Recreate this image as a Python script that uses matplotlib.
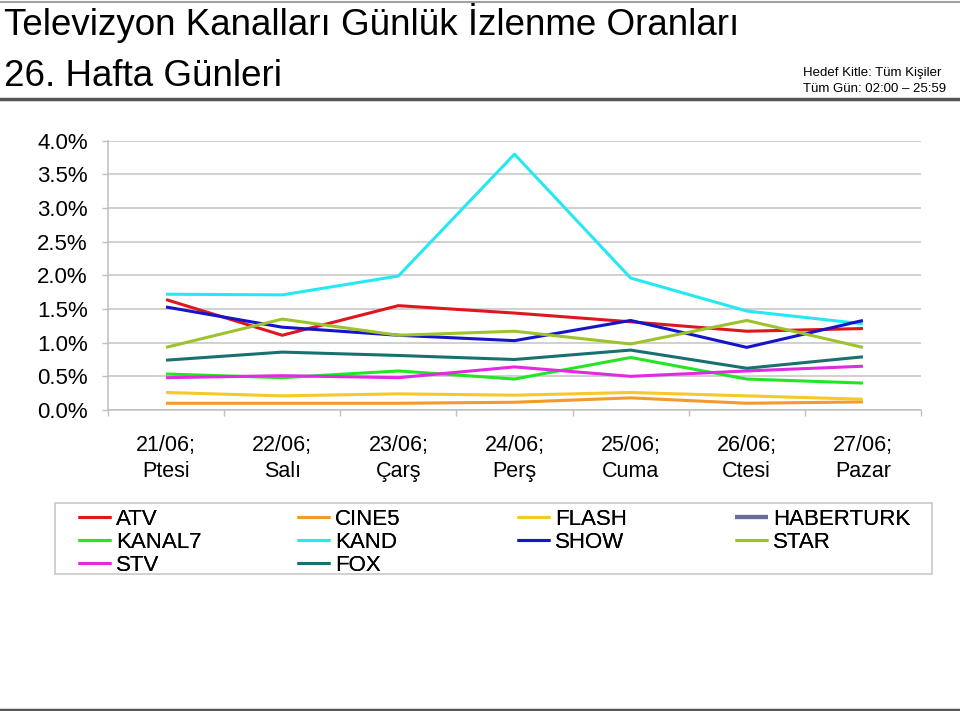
import matplotlib
matplotlib.use('Agg')
import matplotlib.pyplot as plt
from matplotlib.patches import Rectangle
from matplotlib.lines import Line2D
from matplotlib.ticker import FuncFormatter, MultipleLocator, FixedLocator
import numpy as np

plt.rcParams['font.family'] = ['Liberation Sans', 'DejaVu Sans']

days = ["21/06;\nPtesi", "22/06;\nSalı", "23/06;\nÇarş", "24/06;\nPerş",
        "25/06;\nCuma", "26/06;\nCtesi", "27/06;\nPazar"]

# values in percent
atv       = [1.64, 1.11, 1.55, 1.44, 1.31, 1.17, 1.21]
cine5     = [0.10, 0.10, 0.10, 0.115, 0.18, 0.10, 0.12]
flash     = [0.26, 0.21, 0.24, 0.22, 0.26, 0.21, 0.16]
haberturk = [np.nan] * 7
kanal7    = [0.535, 0.48, 0.58, 0.46, 0.78, 0.46, 0.40]
kand      = [1.72, 1.71, 1.99, 3.80, 1.96, 1.47, 1.28]
show      = [1.53, 1.23, 1.11, 1.03, 1.33, 0.93, 1.33]
star      = [0.93, 1.35, 1.11, 1.17, 0.98, 1.33, 0.93]
stv       = [0.48, 0.51, 0.48, 0.64, 0.50, 0.58, 0.65]
fox       = [0.74, 0.86, 0.81, 0.75, 0.89, 0.62, 0.79]

series_names = ["ATV", "CINE5", "FLASH", "HABERTURK", "KANAL7", "KAND",
                "SHOW", "STAR", "STV", "FOX"]
series_vals = [atv, cine5, flash, haberturk, kanal7, kand, show, star, stv, fox]
series_colors = ["#e0161e", "#f29a2c", "#f6c92a", "#6c6c9c", "#22e622",
                 "#26e8f2", "#1414c8", "#9cc32c", "#e22ae2", "#17716f"]

W, H = 960, 711
fig = plt.figure(figsize=(W / 100, H / 100), dpi=100)

# header decorations
fig.add_artist(Line2D([0, 1], [1 - 1.5 / H, 1 - 1.5 / H], color="#a0a0a0", lw=1.5))
fig.add_artist(Line2D([0, 1], [1 - 99 / H, 1 - 99 / H], color="#555555", lw=2.5))
fig.add_artist(Line2D([0, 1], [1 - 709.5 / H, 1 - 709.5 / H], color="#555555", lw=2.5))

fig.text(4 / W, 1 - 35 / H, "Televizyon Kanalları Günlük İzlenme Oranları",
         fontsize=26.5, va="baseline", ha="left")
fig.text(4 / W, 1 - 86 / H, "26. Hafta Günleri",
         fontsize=26.5, va="baseline", ha="left")
fig.text(803 / W, 1 - 76 / H, "Hedef Kitle: Tüm Kişiler",
         fontsize=9.5, va="baseline", ha="left")
fig.text(803 / W, 1 - 92 / H, "Tüm Gün: 02:00 – 25:59",
         fontsize=9.5, va="baseline", ha="left")

ax = fig.add_axes([108 / W, 1 - 410 / H, (921 - 108) / W, (410 - 140.7) / H])
x = np.arange(len(days))
lines = {}
for name, vals, col in zip(series_names, series_vals, series_colors):
    lw = 3.0 if name == "HABERTURK" else 2.2
    ln, = ax.plot(x, vals, color=col, lw=lw, label=name, solid_capstyle="butt")
    lines[name] = ln

ax.set_xlim(-0.5, len(days) - 0.5)
ax.set_ylim(0, 4.0)
ax.yaxis.set_major_locator(MultipleLocator(0.5))
ax.yaxis.set_major_formatter(FuncFormatter(lambda v, p: f"{v:.1f}%"))
ax.set_xticks(x)
ax.set_xticklabels(days, fontsize=15.5, linespacing=1.3)
ax.xaxis.set_minor_locator(FixedLocator(np.arange(-0.5, len(days), 1.0)))
ax.tick_params(axis="x", which="major", length=0, pad=18)
ax.tick_params(axis="x", which="minor", length=4.5, width=1.0, color="#bfbfbf", direction="out")
ax.tick_params(axis="y", which="major", length=4.5, width=1.0, color="#bfbfbf",
               labelsize=16, pad=10)
ax.grid(axis="y", color="#c4c4c4", lw=1.1)
ax.set_axisbelow(True)
for s in ["top", "right"]:
    ax.spines[s].set_visible(False)
for s in ["left", "bottom"]:
    ax.spines[s].set_color("#bfbfbf")
    ax.spines[s].set_linewidth(1.1)

# legend frame
fig.add_artist(Rectangle((55 / W, 1 - 574 / H), (932 - 55) / W, (574 - 503) / H,
                         transform=fig.transFigure, fill=False,
                         edgecolor="#c8c8c8", lw=1.2))

legend_cols = [["ATV", "KANAL7", "STV"], ["CINE5", "KAND", "FOX"],
               ["FLASH", "SHOW"], ["HABERTURK", "STAR"]]
col_x = [78, 297, 517, 735]
for cx, names in zip(col_x, legend_cols):
    leg = fig.legend([lines[n] for n in names], names, loc="upper left",
                     bbox_to_anchor=(cx / W, 1 - 509 / H), frameon=False,
                     fontsize=16, borderpad=0, borderaxespad=0,
                     handlelength=1.5, handletextpad=0.22, labelspacing=0.08)
    fig.add_artist(leg)

fig.savefig("out.png", dpi=100)
